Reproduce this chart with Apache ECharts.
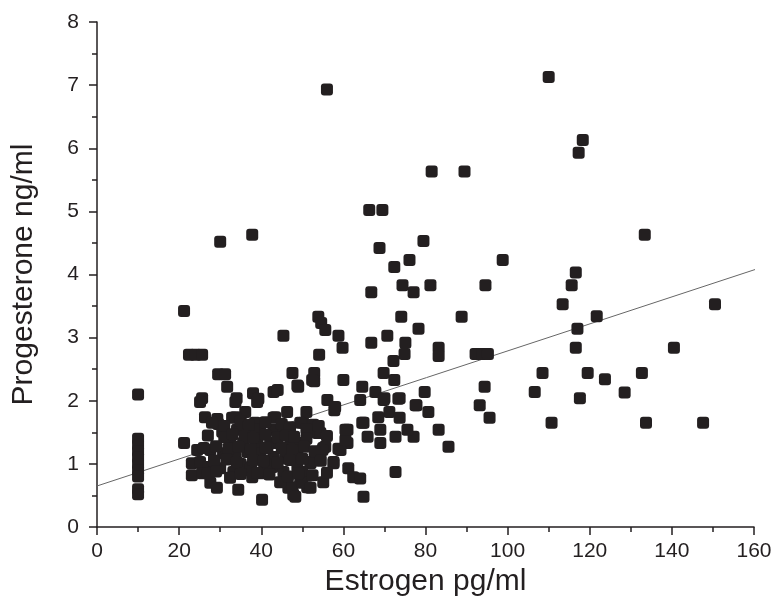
<!DOCTYPE html>
<html>
<head>
<meta charset="utf-8">
<script src="https://cdn.jsdelivr.net/npm/echarts@6/dist/echarts.min.js"></script>
<style>
  html, body { margin: 0; padding: 0; background: #fff; }
  #chart { width: 771px; height: 598px; }
</style>
</head>
<body>
<div id="chart"></div>
<script>
// estrogen (pg/ml) and progesterone (ng/ml)
const estrogen = [
  10, 10, 10, 10, 10, 10, 10, 10, 10, 10,
  110, 56, 118.3, 117.3, 81.5, 89.5, 66.3, 69.5, 30, 37.8,
  68.8, 79.5, 72.4, 76.1, 98.8, 66.8, 74.4, 77.1, 81.2, 94.6,
  53.9, 54.6, 55.6, 74.1, 88.8, 45.4, 58.8, 59.8, 54.1, 66.8,
  70.7, 78.3, 75.1, 74.9, 72.2, 83.2, 83.2, 92.2, 93.8, 95.2,
  47.6, 52.9, 52.9, 60, 69.8, 72.4, 64.6, 67.8, 94.4, 79.8,
  21.2, 22.4, 24, 25.6, 29.5, 31.2, 31.7, 25.6, 34, 38,
  43, 49, 52.4, 39.3, 36.1, 26.3, 21.2, 24.4, 29.5, 30.5,
  23.1, 23.1, 27.6, 29.2, 34.4, 40.2, 44, 48.8,
  116.6, 115.6, 113.4, 117, 116.6, 108.5, 106.6, 117.6, 110.7, 93.2,
  95.6, 150.5, 121.7, 140.5, 119.5, 123.7, 132.7, 128.5, 133.7, 147.6,
  133.4, 70, 73.7, 77.8, 80.7, 71.2, 73.7, 83.2, 85.6, 77.1,
  75.6, 72.7, 69, 69, 65.9, 68.5, 64.9, 61, 61, 58.8,
  55.1, 53.7, 50.2, 57.8, 57.6, 61.2, 62.4, 64.1, 55.1, 72.7,
  64.9, 52, 48.8, 49.5, 47.8, 51.2, 46.6, 46.3, 51, 56.1,
  58, 64.1, 69.8, 73.4, 77.6, 64.6,
  25.1, 33.7, 39, 32.9, 34.1, 38.5, 43, 39.8, 43.9, 32.4,
  35.6, 39, 42.2, 27.6, 30.7, 33.7, 36.6, 39.8, 43, 25.1,
  27.1, 30, 33.2, 36.6, 39.8, 42.7, 25.6, 32.4, 37.8, 29.3,
  33.7, 43.4, 43, 45.4, 49.5, 52.7, 54.4, 43.9, 47.1, 49.5,
  55.6, 59.3, 43, 45.9, 48.8, 52, 45.4, 50, 44.6, 47.6,
  50, 52, 48.3, 60.5, 60.5, 54.9, 57.6, 36.9, 41.5, 28.5,
  31.5, 35, 38.2, 41, 46.5, 35, 37.5, 40.5,
  28, 31, 35, 37, 41, 45, 47, 51, 54,
  27, 31, 33, 36, 38, 41, 44, 46, 48, 51, 56,
  26, 29, 32, 34.5, 37.5, 41, 45, 47.5, 50.5, 53,
  28.5, 31.5, 34, 38, 40.5, 44, 47, 50, 54.5,
  27, 29, 35, 39, 42, 46.5, 49, 52.5, 56
];
const progesterone = [
  2.1, 1.4, 1.3, 1.2, 1.1, 1.0, 0.9, 0.8, 0.6, 0.52,
  7.13, 6.93, 6.13, 5.93, 5.63, 5.63, 5.02, 5.02, 4.52, 4.63,
  4.42, 4.53, 4.12, 4.23, 4.23, 3.72, 3.83, 3.72, 3.83, 3.83,
  3.33, 3.23, 3.12, 3.33, 3.33, 3.03, 3.03, 2.84, 2.73, 2.92,
  3.03, 3.14, 2.92, 2.74, 2.63, 2.84, 2.71, 2.74, 2.74, 2.74,
  2.44, 2.44, 2.31, 2.33, 2.44, 2.33, 2.22, 2.14, 2.22, 2.14,
  3.42, 2.73, 2.73, 2.73, 2.42, 2.42, 2.22, 2.04, 2.04, 2.12,
  2.14, 2.22, 2.33, 2.03, 1.82, 1.74, 1.33, 1.22, 1.63, 1.51,
  1.01, 0.82, 0.7, 0.62, 0.59, 0.43, 2.17, 2.24,
  4.03, 3.83, 3.53, 3.14, 2.84, 2.44, 2.14, 2.04, 1.65, 1.93,
  1.73, 3.53, 3.34, 2.84, 2.44, 2.34, 2.44, 2.13, 1.65, 1.65,
  4.63, 2.04, 2.04, 1.93, 1.82, 1.82, 1.73, 1.54, 1.27, 1.43,
  1.54, 1.43, 1.54, 1.33, 1.43, 1.74, 1.65, 1.54, 1.33, 1.24,
  1.25, 1.49, 1.65, 1.85, 1.01, 0.93, 0.79, 0.77, 0.71, 0.87,
  0.48, 1.01, 0.95, 0.74, 0.51, 0.63, 0.62, 1.82, 1.82, 2.01,
  1.9, 2.01, 2.01, 2.03, 1.93, 1.65,
  1.98, 1.98, 1.98, 1.73, 1.54, 1.65, 1.73, 1.49, 1.49, 1.33,
  1.33, 1.33, 1.33, 1.22, 1.17, 1.11, 1.19, 1.17, 1.09, 1.03,
  0.95, 0.93, 0.87, 0.9, 0.85, 0.95, 0.85, 0.78, 0.79, 1.71,
  1.74, 1.74, 1.54, 1.54, 1.65, 1.62, 1.49, 1.33, 1.33, 1.33,
  1.27, 1.22, 1.11, 1.09, 1.14, 1.03, 0.87, 0.87, 0.71, 0.63,
  0.7, 0.62, 0.48, 1.38, 1.54, 1.22, 1.03, 1.45, 1.25, 1.05,
  1.42, 1.0, 1.55, 1.0, 1.2, 1.6, 0.95, 1.05,
  1.65, 1.6, 1.68, 1.62, 1.66, 1.63, 1.58, 1.55, 1.6,
  1.45, 1.42, 1.47, 1.44, 1.41, 1.46, 1.42, 1.45, 1.43, 1.4, 1.44,
  1.25, 1.28, 1.24, 1.27, 1.23, 1.26, 1.25, 1.22, 1.27, 1.2,
  1.05, 1.07, 1.03, 1.06, 1.04, 1.02, 1.06, 1.08, 1.05,
  0.85, 0.88, 0.84, 0.86, 0.83, 0.8, 0.85, 0.82, 0.86
];
// fitted line end points
const fitX = [0, 165];
const fitY = [0.65, 4.18];

const xTicks = { min: 0, max: 160, interval: 20 };
const yTicks = { min: 0, max: 8, interval: 1 };

const ink = '#231f20';
const font = '"Liberation Sans", Arial, sans-serif';

const points = estrogen.map((x, i) => [x, progesterone[i]]);
const fit = fitX.map((x, i) => [x, fitY[i]]);

const axisCommon = {
  axisLine: { show: true, lineStyle: { color: ink, width: 1.5 } },
  axisTick: { show: true, inside: false, length: 8, lineStyle: { color: ink, width: 1.5 } },
  minorTick: { show: true, splitNumber: 2, length: 5, lineStyle: { color: ink, width: 1.5 } },
  splitLine: { show: false },
  nameLocation: 'middle',
  nameTextStyle: { color: ink, fontSize: 30, fontFamily: font }
};

const chart = echarts.init(document.getElementById('chart'));
chart.setOption({
  animation: false,
  grid: { left: 97, right: 17, top: 22, bottom: 71, containLabel: false, outerBoundsMode: 'none' },
  xAxis: Object.assign({}, axisCommon, {
    type: 'value',
    min: xTicks.min, max: xTicks.max, interval: xTicks.interval,
    name: 'Estrogen pg/ml',
    nameGap: 38,
    axisLabel: { color: ink, fontSize: 21, fontFamily: font, margin: 14 }
  }),
  yAxis: Object.assign({}, axisCommon, {
    type: 'value',
    min: yTicks.min, max: yTicks.max, interval: yTicks.interval,
    name: 'Progesterone ng/ml',
    nameGap: 58,
    axisLabel: { color: ink, fontSize: 21, fontFamily: font, margin: 18 }
  }),
  series: [
    {
      type: 'line',
      data: fit,
      symbol: 'none',
      clip: false,
      lineStyle: { color: '#666', width: 1 },
      z: 1
    },
    {
      type: 'scatter',
      data: points,
      symbol: 'roundRect',
      symbolSize: 12,
      itemStyle: { color: ink, opacity: 1 },
      z: 2
    }
  ]
});
</script>
</body>
</html>
